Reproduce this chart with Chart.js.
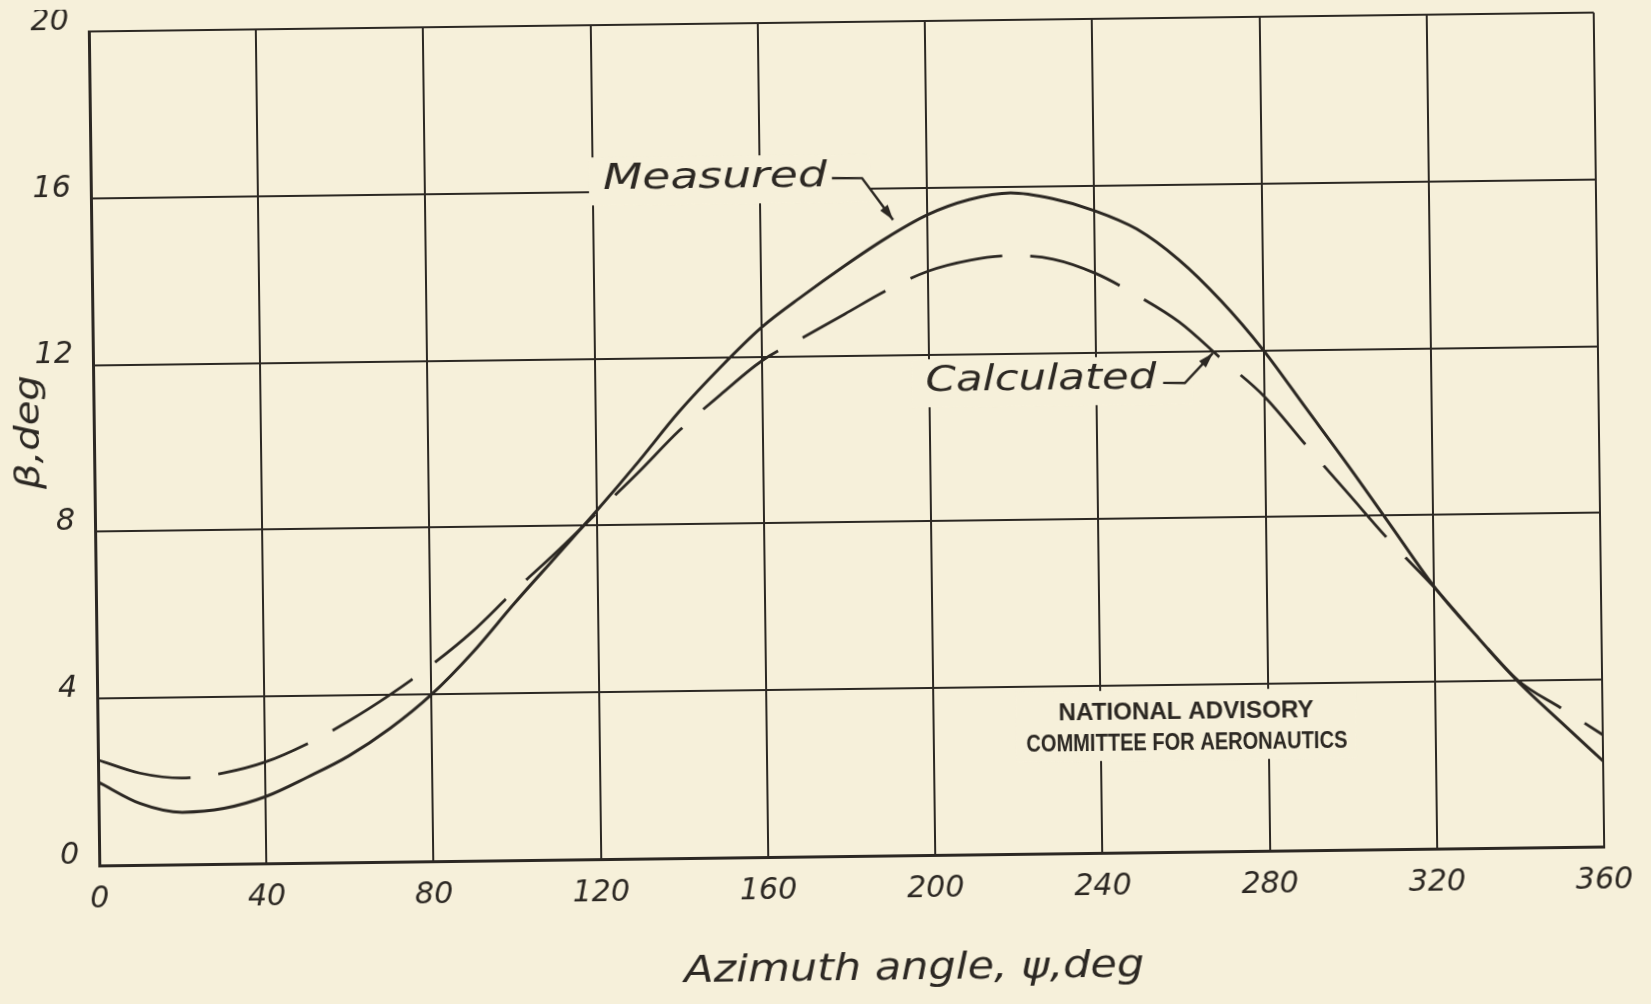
<!DOCTYPE html>
<html>
<head>
<meta charset="utf-8">
<style>
  html, body { margin: 0; padding: 0; background: #f6f0da; overflow: hidden; }
  #wrap { width: 1651px; height: 1004px; transform-origin: 847px 439px; transform: rotate(-0.72deg); }
</style>
<script src="https://cdn.jsdelivr.net/npm/chart.js@4.4.1/dist/chart.umd.min.js"></script>
</head>
<body>
<div id="wrap"><canvas id="chart" width="1651" height="1004"></canvas></div>
<script>
// azimuth angle, deg
const psi = [0, 10, 20, 30, 40, 50, 60, 70, 80, 90, 100, 110, 120, 130, 140, 150, 160, 170, 180,
  190, 200, 210, 220, 230, 240, 250, 260, 270, 280, 290, 300, 310, 320, 330, 340, 350, 360];
// beta, deg
const measured = [2.0, 1.47, 1.25, 1.33, 1.6, 2.05, 2.55, 3.2, 4.0, 5.0, 6.15, 7.25, 8.35, 9.5, 10.7, 11.75, 12.7, 13.45, 14.15,
  14.8, 15.35, 15.7, 15.85, 15.7, 15.4, 14.95, 14.2, 13.2, 12.0, 10.6, 9.2, 7.75, 6.3, 5.1, 3.97, 3.0, 2.05];
const calculated = [2.53, 2.2, 2.07, 2.18, 2.43, 2.85, 3.38, 4.0, 4.7, 5.5, 6.45, 7.35, 8.3, 9.25, 10.25, 11.1, 11.9, 12.45, 13.0,
  13.55, 14.0, 14.25, 14.35, 14.25, 13.9, 13.35, 12.7, 11.8, 10.9, 9.7, 8.52, 7.35, 6.28, 5.1, 4.0, 3.34, 2.68];

const xTicks = [0, 40, 80, 120, 160, 200, 240, 280, 320, 360];
const yTicks = [0, 4, 8, 12, 16, 20];

const xTitle = 'Azimuth angle, ψ,deg';
const yTitle = 'β,deg';
const seriesNames = ['Measured', 'Calculated'];
const footnote = ['NATIONAL ADVISORY', 'COMMITTEE FOR AERONAUTICS'];

const ink = '#2c2823';
const paper = '#f6f0da';
const hand = '"DejaVu Sans", sans-serif';

// callouts placed in data units (x = deg, y = beta)
const callouts = [
  { text: seriesNames[0], x: 149.3, y: 16.3, width: 224, leader: [[177.3, 16.26], [184.5, 16.25], [191.8, 15.24]] },
  { text: seriesNames[1], x: 226.7, y: 11.36, width: 231, leader: [[255.9, 11.25], [261.1, 11.24], [267.9, 11.95]] }
];

function fitText(ctx, text, cx, cy, width, font, angle) {
  ctx.save();
  ctx.font = font;
  const w = ctx.measureText(text).width;
  ctx.translate(cx, cy);
  if (angle) ctx.rotate(angle);
  ctx.scale(width / w, 1);
  ctx.textAlign = 'center';
  ctx.textBaseline = 'middle';
  ctx.fillText(text, 0, 0);
  ctx.restore();
}

const paperMasks = {
  id: 'paperMasks',
  beforeDatasetsDraw(chart) {
    const { ctx, scales: { x, y } } = chart;
    ctx.save();
    ctx.fillStyle = paper;
    callouts.forEach(c => {
      const cx = x.getPixelForValue(c.x);
      const cy = y.getPixelForValue(c.y);
      const lx = x.getPixelForValue(c.leader[1][0]);
      ctx.fillRect(cx - c.width / 2 - 14, cy - 22, lx - (cx - c.width / 2 - 14) + 8, 48);
    });
    const nx = x.getPixelForValue(260.4);
    const ny = y.getPixelForValue(2.97);
    ctx.fillRect(nx - 170, ny - 38, 340, 70);
    ctx.restore();
  }
};

const handLabels = {
  id: 'handLabels',
  afterDatasetsDraw(chart) {
    const { ctx, scales: { x, y } } = chart;
    ctx.save();
    ctx.fillStyle = ink;
    ctx.strokeStyle = ink;

    callouts.forEach(c => {
      fitText(ctx, c.text, x.getPixelForValue(c.x), y.getPixelForValue(c.y), c.width, `italic 36px ${hand}`);
      const pts = c.leader.map(p => [x.getPixelForValue(p[0]), y.getPixelForValue(p[1])]);
      ctx.lineWidth = 2.5;
      ctx.beginPath();
      pts.forEach((p, i) => (i ? ctx.lineTo(p[0], p[1]) : ctx.moveTo(p[0], p[1])));
      ctx.stroke();
      const [a, b] = pts.slice(-2);
      const ang = Math.atan2(b[1] - a[1], b[0] - a[0]);
      ctx.beginPath();
      ctx.moveTo(b[0], b[1]);
      ctx.lineTo(b[0] - 16 * Math.cos(ang - 0.3), b[1] - 16 * Math.sin(ang - 0.3));
      ctx.lineTo(b[0] - 16 * Math.cos(ang + 0.3), b[1] - 16 * Math.sin(ang + 0.3));
      ctx.closePath();
      ctx.fill();
    });

    fitText(ctx, footnote[0], x.getPixelForValue(260.4), y.getPixelForValue(3.33), 255, 'bold 23px "Liberation Sans", sans-serif');
    fitText(ctx, footnote[1], x.getPixelForValue(260.5), y.getPixelForValue(2.61), 321, 'bold 23px "Liberation Sans", sans-serif');

    fitText(ctx, xTitle, x.getPixelForValue(194.6), y.getPixelForValue(-2.73), 460, `italic 38px ${hand}`);
    fitText(ctx, yTitle, x.getPixelForValue(-15.3), y.getPixelForValue(10.41), 114, `italic 34px ${hand}`, -Math.PI / 2);
    ctx.restore();
  }
};

new Chart(document.getElementById('chart'), {
  type: 'line',
  data: {
    datasets: [
      {
        label: seriesNames[0],
        data: psi.map((v, i) => ({ x: v, y: measured[i] })),
        borderColor: ink,
        borderWidth: 3,
        pointRadius: 0,
        cubicInterpolationMode: 'monotone',
        fill: false
      },
      {
        label: seriesNames[1],
        data: psi.map((v, i) => ({ x: v, y: calculated[i] })),
        borderColor: ink,
        borderWidth: 2.8,
        borderDash: [95, 28],
        pointRadius: 0,
        cubicInterpolationMode: 'monotone',
        fill: false
      }
    ]
  },
  options: {
    responsive: false,
    animation: false,
    events: [],
    devicePixelRatio: 1,
    layout: { padding: { top: 22, right: 52, left: 0, bottom: 0 } },
    plugins: { legend: { display: false }, tooltip: { enabled: false } },
    scales: {
      x: {
        type: 'linear',
        min: 0,
        max: 360,
        afterBuildTicks(scale) { scale.ticks = xTicks.map(v => ({ value: v })); },
        afterFit(scale) {
          scale.height = 148;
          scale.paddingLeft = 0;
          scale.paddingRight = 0;
        },
        grid: { color: ink, lineWidth: 2, drawTicks: false },
        border: { color: ink, width: 3 },
        ticks: { color: ink, padding: 16, maxRotation: 0, autoSkip: false, font: { family: hand, size: 30, style: 'italic' } }
      },
      y: {
        type: 'linear',
        min: 0,
        max: 20,
        afterBuildTicks(scale) { scale.ticks = yTicks.map(v => ({ value: v })); },
        afterFit(scale) {
          scale.width = 94;
          scale.paddingTop = 0;
          scale.paddingBottom = 0;
        },
        grid: { color: ink, lineWidth: 2, drawTicks: false },
        border: { color: ink, width: 3 },
        ticks: { color: ink, padding: 20, labelOffset: -10, font: { family: hand, size: 30, style: 'italic' } }
      }
    }
  },
  plugins: [paperMasks, handLabels]
});
</script>
</body>
</html>
